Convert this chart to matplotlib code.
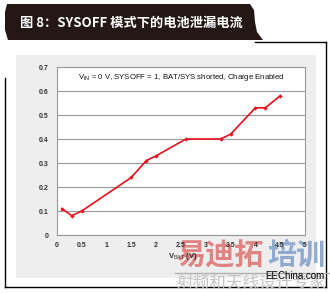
import matplotlib
matplotlib.use("Agg")
import matplotlib.pyplot as plt
from matplotlib.patches import Rectangle, Polygon
from matplotlib.lines import Line2D

# battery voltage (V) vs leakage current
vbat = [0.1, 0.3, 0.5, 1.5, 1.8, 2.0, 2.6, 3.3, 3.5, 4.0, 4.2, 4.5]
ileak = [0.11, 0.08, 0.10, 0.24, 0.31, 0.33, 0.40, 0.40, 0.42, 0.53, 0.53, 0.58]

xticks = [0, 0.5, 1, 1.5, 2, 2.5, 3, 3.5, 4, 4.5, 5]
xtick_labels = ["0", "0.5", "1", "1.5", "2", "2.5", "3", "3.5", "4", "4.5", "5"]
yticks = [0, 0.1, 0.2, 0.3, 0.4, 0.5, 0.6, 0.7]
ytick_labels = ["0", "0.1", "0.2", "0.3", "0.4", "0.5", "0.6", "0.7"]

title = "图 8：SYSOFF 模式下的电池泄漏电流"
note = r"V$_{\mathrm{IN}}$ = 0 V, SYSOFF = 1, BAT/SYS shorted, Charge Enabled"
xlabel = r"V$_{\mathrm{BAT}}$ (V)"

plt.rcParams['font.family'] = ['Liberation Sans', 'Noto Sans CJK SC', 'DejaVu Sans']
plt.rcParams['mathtext.fontset'] = 'custom'
plt.rcParams['mathtext.rm'] = 'Liberation Sans'
plt.rcParams['mathtext.it'] = 'Liberation Sans'
plt.rcParams['mathtext.bf'] = 'Liberation Sans:bold'

W, H = 330, 293
fig = plt.figure(figsize=(W / 100, H / 100), dpi=100)
fig.patch.set_facecolor('white')

def fx(px):
    return px / W

def fy(py):
    return 1 - py / H

# grey chart panel
fig.patches.append(Rectangle((fx(16), fy(278)), fx(300), 223 / H,
                             transform=fig.transFigure, facecolor='#eeeeee',
                             edgecolor='none', zorder=-5))

# black outer frame
frame = [([fx(255), fx(326)], [fy(42), fy(42)]),
         ([fx(326), fx(326)], [fy(42), fy(287)]),
         ([fx(5), fx(326)], [fy(287), fy(287)]),
         ([fx(5), fx(5)], [fy(78), fy(287)])]
for xs, ys in frame:
    fig.lines.append(Line2D(xs, ys, transform=fig.transFigure, color='black',
                            lw=1.0, zorder=-4))

# dark title banner
banner = [(7, 4), (250, 4), (254, 10), (255, 22), (257, 32), (263, 40),
          (8, 40), (5, 30), (5, 12)]
fig.patches.append(Polygon([(fx(a), fy(b)) for a, b in banner], closed=True,
                           transform=fig.transFigure, facecolor='#231815',
                           edgecolor='none', zorder=-4))
fig.text(fx(20), fy(23), title, color='white', fontsize=9.5, fontweight='bold',
         family=['Noto Sans CJK SC', 'DejaVu Sans'], va='center', ha='left')

# watermark (sits under the axis labels)
fig.text(fx(176), fy(255), "易迪拓", fontsize=21, fontweight='bold', color='#e07878',
         alpha=0.9, family=['Noto Sans CJK SC'], va='center', ha='left', zorder=-3)
fig.text(fx(267), fy(255), "培训", fontsize=21, fontweight='bold', color='#86a2cc',
         alpha=0.9, family=['Noto Sans CJK SC'], va='center', ha='left', zorder=-3)
fig.lines.append(Line2D([fx(175), fx(330)], [fy(273), fy(273)],
                        transform=fig.transFigure, color='#b0b0b0', lw=1.0, zorder=-3))
fig.text(fx(177), fy(283), "射频和天线设计专家", fontsize=12, color='#c4c4c4',
         family=['Noto Sans CJK SC'], va='center', ha='left', zorder=-3)
fig.text(fx(325), fy(276), "EEChina.com", fontsize=7, color='black',
         va='center', ha='right', zorder=6)

ax = fig.add_axes([fx(57), fy(235), fx(305) - fx(57), (235 - 67) / H])
ax.set_zorder(1)
ax.set_facecolor('white')
ax.plot(vbat, ileak, color='#e8101e', lw=1.2, marker='D', markersize=2.2,
        markeredgewidth=0, zorder=3)
ax.set_xlim(0, 5)
ax.set_ylim(0, 0.7)
ax.set_xticks(xticks)
ax.set_xticklabels(xtick_labels)
ax.set_yticks(yticks)
ax.set_yticklabels(ytick_labels)
ax.tick_params(length=0, labelsize=5, labelcolor='#333333')
ax.tick_params(axis='x', pad=5)
ax.tick_params(axis='y', pad=6)
for lab in ax.get_xticklabels() + ax.get_yticklabels():
    lab.set_fontweight('bold')
ax.grid(axis='y', color='#999999', lw=0.8)
ax.set_axisbelow(True)
for sp in ax.spines.values():
    sp.set_color('#999999')
    sp.set_linewidth(0.8)

ax.text(0.5, 0.935, note, transform=ax.transAxes, ha='center', va='center',
        fontsize=5.6, color='#111111')
fig.text(fx(183), fy(257), xlabel, ha='center', va='center', fontsize=5.5,
         fontweight='bold', color='#333333', zorder=2)

fig.savefig("out.png", dpi=100)
